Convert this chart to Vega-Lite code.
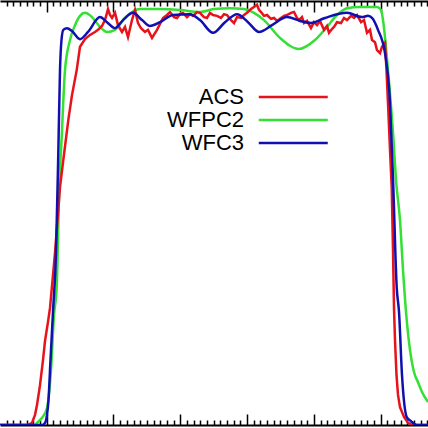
{
  "$schema": "https://vega.github.io/schema/vega-lite/v6.json",
  "width": 428,
  "height": 424,
  "autosize": {"type": "none"},
  "padding": {"top": 1, "bottom": 3, "left": 0, "right": 0},
  "config": {"view": {"stroke": null}, "font": "Liberation Sans"},
  "data": {"values": [
    {"s":"WFC3","w":415.05,"t":0},{"s":"WFC3","w":446.49,"t":0},{"s":"WFC3","w":448.73,"t":0.005},{"s":"WFC3","w":450.23,"t":0.024},
    {"s":"WFC3","w":451.35,"t":0.059},{"s":"WFC3","w":452.85,"t":0.153},{"s":"WFC3","w":454.72,"t":0.267},{"s":"WFC3","w":456.97,"t":0.406},
    {"s":"WFC3","w":458.69,"t":0.642},{"s":"WFC3","w":459.96,"t":0.837},{"s":"WFC3","w":461.08,"t":0.908},{"s":"WFC3","w":462.43,"t":0.932},
    {"s":"WFC3","w":465.2,"t":0.936},{"s":"WFC3","w":468.94,"t":0.929},{"s":"WFC3","w":474.93,"t":0.91},{"s":"WFC3","w":480.92,"t":0.927},
    {"s":"WFC3","w":489.9,"t":0.962},{"s":"WFC3","w":495.14,"t":0.95},{"s":"WFC3","w":501.13,"t":0.936},{"s":"WFC3","w":507.12,"t":0.955},
    {"s":"WFC3","w":514.6,"t":0.972},{"s":"WFC3","w":521.34,"t":0.955},{"s":"WFC3","w":527.33,"t":0.941},{"s":"WFC3","w":534.81,"t":0.95},
    {"s":"WFC3","w":544.54,"t":0.967},{"s":"WFC3","w":557.27,"t":0.969},{"s":"WFC3","w":564.75,"t":0.955},{"s":"WFC3","w":574.48,"t":0.925},
    {"s":"WFC3","w":583.46,"t":0.95},{"s":"WFC3","w":592.44,"t":0.969},{"s":"WFC3","w":600.68,"t":0.95},{"s":"WFC3","w":608.91,"t":0.927},
    {"s":"WFC3","w":618.64,"t":0.943},{"s":"WFC3","w":629.87,"t":0.962},{"s":"WFC3","w":639.6,"t":0.953},{"s":"WFC3","w":647.83,"t":0.948},
    {"s":"WFC3","w":658.31,"t":0.96},{"s":"WFC3","w":674.78,"t":0.972},{"s":"WFC3","w":686.01,"t":0.962},{"s":"WFC3","w":690.5,"t":0.965},
    {"s":"WFC3","w":693.49,"t":0.96},{"s":"WFC3","w":697.98,"t":0.932},{"s":"WFC3","w":703.22,"t":0.877},{"s":"WFC3","w":706.97,"t":0.759},
    {"s":"WFC3","w":709.44,"t":0.561},{"s":"WFC3","w":711.98,"t":0.325},{"s":"WFC3","w":713.7,"t":0.267},{"s":"WFC3","w":715.95,"t":0.118},
    {"s":"WFC3","w":719.47,"t":0.019},{"s":"WFC3","w":722.68,"t":0.009},{"s":"WFC3","w":726.95,"t":0},{"s":"WFC3","w":735.41,"t":0},

    {"s":"WFPC2","w":415.05,"t":0},{"s":"WFPC2","w":441.25,"t":0},{"s":"WFPC2","w":442.74,"t":0.005},{"s":"WFPC2","w":446.49,"t":0.017},
    {"s":"WFPC2","w":450.23,"t":0.04},{"s":"WFPC2","w":453.22,"t":0.13},{"s":"WFPC2","w":455.47,"t":0.259},{"s":"WFPC2","w":457.49,"t":0.325},
    {"s":"WFPC2","w":459.44,"t":0.561},{"s":"WFPC2","w":461.23,"t":0.679},{"s":"WFPC2","w":463.7,"t":0.837},{"s":"WFPC2","w":467.45,"t":0.908},
    {"s":"WFPC2","w":471.19,"t":0.943},{"s":"WFPC2","w":474.93,"t":0.965},{"s":"WFPC2","w":478.67,"t":0.972},{"s":"WFPC2","w":483.91,"t":0.962},
    {"s":"WFPC2","w":489.9,"t":0.939},{"s":"WFPC2","w":495.14,"t":0.927},{"s":"WFPC2","w":501.13,"t":0.932},{"s":"WFPC2","w":508.61,"t":0.96},
    {"s":"WFPC2","w":519.84,"t":0.981},{"s":"WFPC2","w":534.81,"t":0.981},{"s":"WFPC2","w":549.78,"t":0.979},{"s":"WFPC2","w":564.75,"t":0.974},
    {"s":"WFPC2","w":575.23,"t":0.981},{"s":"WFPC2","w":587.21,"t":0.983},{"s":"WFPC2","w":597.69,"t":0.981},{"s":"WFPC2","w":605.17,"t":0.972},
    {"s":"WFPC2","w":612.65,"t":0.955},{"s":"WFPC2","w":624.63,"t":0.913},{"s":"WFPC2","w":638.85,"t":0.887},{"s":"WFPC2","w":650.83,"t":0.908},
    {"s":"WFPC2","w":659.81,"t":0.939},{"s":"WFPC2","w":667.29,"t":0.967},{"s":"WFPC2","w":674.78,"t":0.983},{"s":"WFPC2","w":684.51,"t":0.986},
    {"s":"WFPC2","w":697.23,"t":0.986},{"s":"WFPC2","w":700.23,"t":0.979},{"s":"WFPC2","w":701.73,"t":0.955},{"s":"WFPC2","w":705.47,"t":0.837},
    {"s":"WFPC2","w":709.44,"t":0.679},{"s":"WFPC2","w":711.46,"t":0.578},{"s":"WFPC2","w":714.45,"t":0.483},{"s":"WFPC2","w":716.7,"t":0.366},
    {"s":"WFPC2","w":718.95,"t":0.267},{"s":"WFPC2","w":721.94,"t":0.177},{"s":"WFPC2","w":724.93,"t":0.125},{"s":"WFPC2","w":727.92,"t":0.101},
    {"s":"WFPC2","w":730.92,"t":0.078},{"s":"WFPC2","w":735.41,"t":0.054},

    {"s":"ACS","w":415.05,"t":0},{"s":"ACS","w":436.01,"t":0},{"s":"ACS","w":439.0,"t":0.005},{"s":"ACS","w":441.25,"t":0.024},
    {"s":"ACS","w":442.74,"t":0.047},{"s":"ACS","w":444.99,"t":0.094},{"s":"ACS","w":447.24,"t":0.153},{"s":"ACS","w":448.73,"t":0.198},
    {"s":"ACS","w":451.2,"t":0.248},{"s":"ACS","w":452.48,"t":0.276},{"s":"ACS","w":456.22,"t":0.406},{"s":"ACS","w":459.96,"t":0.561},
    {"s":"ACS","w":462.43,"t":0.625},{"s":"ACS","w":466.17,"t":0.719},{"s":"ACS","w":468.94,"t":0.778},{"s":"ACS","w":472.46,"t":0.837},
    {"s":"ACS","w":474.93,"t":0.892},{"s":"ACS","w":478.67,"t":0.91},{"s":"ACS","w":482.42,"t":0.92},{"s":"ACS","w":486.16,"t":0.927},
    {"s":"ACS","w":488.4,"t":0.932},{"s":"ACS","w":491.4,"t":0.941},{"s":"ACS","w":493.64,"t":0.955},{"s":"ACS","w":495.14,"t":0.972},
    {"s":"ACS","w":495.89,"t":0.981},{"s":"ACS","w":497.38,"t":0.967},{"s":"ACS","w":498.88,"t":0.96},{"s":"ACS","w":501.13,"t":0.972},
    {"s":"ACS","w":503.37,"t":0.943},{"s":"ACS","w":506.37,"t":0.927},{"s":"ACS","w":508.61,"t":0.939},{"s":"ACS","w":510.86,"t":0.915},
    {"s":"ACS","w":513.85,"t":0.955},{"s":"ACS","w":516.1,"t":0.979},{"s":"ACS","w":518.34,"t":0.948},{"s":"ACS","w":520.59,"t":0.936},
    {"s":"ACS","w":523.58,"t":0.927},{"s":"ACS","w":525.83,"t":0.932},{"s":"ACS","w":528.82,"t":0.913},{"s":"ACS","w":532.56,"t":0.932},
    {"s":"ACS","w":534.81,"t":0.946},{"s":"ACS","w":537.06,"t":0.96},{"s":"ACS","w":540.05,"t":0.967},{"s":"ACS","w":542.3,"t":0.974},
    {"s":"ACS","w":545.29,"t":0.962},{"s":"ACS","w":547.53,"t":0.96},{"s":"ACS","w":549.78,"t":0.969},{"s":"ACS","w":552.03,"t":0.972},
    {"s":"ACS","w":555.02,"t":0.962},{"s":"ACS","w":557.27,"t":0.969},{"s":"ACS","w":559.51,"t":0.965},{"s":"ACS","w":562.51,"t":0.974},
    {"s":"ACS","w":564.75,"t":0.972},{"s":"ACS","w":567.74,"t":0.962},{"s":"ACS","w":569.99,"t":0.96},{"s":"ACS","w":572.24,"t":0.972},
    {"s":"ACS","w":574.48,"t":0.967},{"s":"ACS","w":577.47,"t":0.965},{"s":"ACS","w":580.47,"t":0.96},{"s":"ACS","w":582.71,"t":0.969},
    {"s":"ACS","w":584.96,"t":0.967},{"s":"ACS","w":587.95,"t":0.955},{"s":"ACS","w":590.2,"t":0.948},{"s":"ACS","w":592.44,"t":0.962},
    {"s":"ACS","w":595.44,"t":0.96},{"s":"ACS","w":597.69,"t":0.967},{"s":"ACS","w":599.93,"t":0.972},{"s":"ACS","w":602.92,"t":0.981},
    {"s":"ACS","w":605.17,"t":0.986},{"s":"ACS","w":607.41,"t":0.991},{"s":"ACS","w":608.91,"t":0.979},{"s":"ACS","w":610.41,"t":0.974},
    {"s":"ACS","w":612.65,"t":0.965},{"s":"ACS","w":614.9,"t":0.967},{"s":"ACS","w":617.89,"t":0.958},{"s":"ACS","w":620.14,"t":0.96},
    {"s":"ACS","w":622.38,"t":0.953},{"s":"ACS","w":625.38,"t":0.96},{"s":"ACS","w":627.62,"t":0.965},{"s":"ACS","w":629.87,"t":0.967},
    {"s":"ACS","w":632.86,"t":0.972},{"s":"ACS","w":635.11,"t":0.974},{"s":"ACS","w":637.35,"t":0.96},{"s":"ACS","w":638.85,"t":0.955},
    {"s":"ACS","w":641.09,"t":0.962},{"s":"ACS","w":642.59,"t":0.948},{"s":"ACS","w":644.84,"t":0.953},{"s":"ACS","w":647.83,"t":0.936},
    {"s":"ACS","w":650.08,"t":0.95},{"s":"ACS","w":652.32,"t":0.943},{"s":"ACS","w":654.57,"t":0.953},{"s":"ACS","w":657.56,"t":0.932},
    {"s":"ACS","w":659.81,"t":0.941},{"s":"ACS","w":661.31,"t":0.925},{"s":"ACS","w":663.55,"t":0.934},{"s":"ACS","w":665.05,"t":0.939},
    {"s":"ACS","w":667.29,"t":0.95},{"s":"ACS","w":670.29,"t":0.948},{"s":"ACS","w":672.53,"t":0.96},{"s":"ACS","w":674.78,"t":0.955},
    {"s":"ACS","w":677.77,"t":0.965},{"s":"ACS","w":680.02,"t":0.96},{"s":"ACS","w":682.26,"t":0.967},{"s":"ACS","w":685.26,"t":0.95},
    {"s":"ACS","w":687.5,"t":0.955},{"s":"ACS","w":689.75,"t":0.925},{"s":"ACS","w":692.0,"t":0.932},{"s":"ACS","w":693.49,"t":0.908},
    {"s":"ACS","w":695.74,"t":0.903},{"s":"ACS","w":697.23,"t":0.884},{"s":"ACS","w":699.48,"t":0.877},{"s":"ACS","w":700.98,"t":0.892},
    {"s":"ACS","w":703.22,"t":0.901},{"s":"ACS","w":704.35,"t":0.837},{"s":"ACS","w":705.47,"t":0.759},{"s":"ACS","w":706.97,"t":0.649},
    {"s":"ACS","w":708.24,"t":0.561},{"s":"ACS","w":709.21,"t":0.413},{"s":"ACS","w":709.96,"t":0.276},{"s":"ACS","w":710.71,"t":0.2},
    {"s":"ACS","w":711.83,"t":0.118},{"s":"ACS","w":712.96,"t":0.071},{"s":"ACS","w":714.45,"t":0.042},{"s":"ACS","w":717.45,"t":0.019},
    {"s":"ACS","w":720.44,"t":0.005},{"s":"ACS","w":723.43,"t":0},{"s":"ACS","w":735.41,"t":0}
  ]},
  "layer": [
    {
      "transform": [{"filter": "datum.s === 'WFPC2'"}],
      "mark": {"type": "line", "strokeWidth": 2.5, "interpolate": "monotone", "clip": true},
      "encoding": {
        "x": {
          "field": "w", "type": "quantitative",
          "scale": {"domain": [415.05, 735.41], "nice": false, "zero": false},
          "axis": {
            "orient": "top", "title": null, "labels": false, "grid": false,
            "values": [420,425,430,435,440,445,450,455,460,465,470,475,480,485,490,495,500,505,510,515,520,525,530,535,540,545,550,555,560,565,570,575,580,585,590,595,600,605,610,615,620,625,630,635,640,645,650,655,660,665,670,675,680,685,690,695,700,705,710,715,720,725,730,735],
            "domainColor": "black", "domainWidth": 2,
            "tickColor": "black", "tickWidth": 1.5,
            "tickSize": {"condition": {"test": "datum.value % 50 === 0", "value": -11}, "value": -5}
          }
        },
        "y": {
          "field": "t", "type": "quantitative",
          "scale": {"domain": [0, 1], "nice": false, "zero": false},
          "axis": null
        },
        "color": {
          "field": "s", "type": "nominal",
          "scale": {"domain": ["ACS", "WFPC2", "WFC3"], "range": ["#e8121b", "#33e033", "#1010b0"]},
          "legend": {
            "orient": "none", "legendX": 282.25, "legendY": 85, "title": null,
            "padding": 0, "rowPadding": 1,
            "symbolType": "M-6.9,0H6.9", "symbolSize": 100, "symbolStrokeWidth": 2.5,
            "labelFont": "Liberation Sans", "labelFontSize": 22, "labelColor": "black",
            "labelAlign": "right", "labelOffset": -60.25, "labelLimit": 0
          }
        }
      }
    },
    {
      "transform": [{"filter": "datum.s === 'ACS'"}],
      "mark": {"type": "line", "strokeWidth": 2.5, "clip": true},
      "encoding": {
        "x": {
          "field": "w", "type": "quantitative",
          "axis": {
            "orient": "bottom", "title": null, "labels": false, "grid": false,
            "values": [420,425,430,435,440,445,450,455,460,465,470,475,480,485,490,495,500,505,510,515,520,525,530,535,540,545,550,555,560,565,570,575,580,585,590,595,600,605,610,615,620,625,630,635,640,645,650,655,660,665,670,675,680,685,690,695,700,705,710,715,720,725,730,735],
            "domainColor": "black", "domainWidth": 2,
            "tickColor": "black", "tickWidth": 1.5,
            "tickSize": {"condition": {"test": "datum.value % 50 === 0", "value": -11}, "value": -5}
          }
        },
        "y": {"field": "t", "type": "quantitative", "axis": null},
        "color": {"field": "s", "type": "nominal"}
      }
    },
    {
      "transform": [{"filter": "datum.s === 'WFC3'"}],
      "mark": {"type": "line", "strokeWidth": 2.5, "interpolate": "monotone", "clip": true},
      "encoding": {
        "x": {"field": "w", "type": "quantitative", "axis": null},
        "y": {"field": "t", "type": "quantitative", "axis": null},
        "color": {"field": "s", "type": "nominal"}
      }
    }
  ],
  "resolve": {"axis": {"x": "independent"}}
}
